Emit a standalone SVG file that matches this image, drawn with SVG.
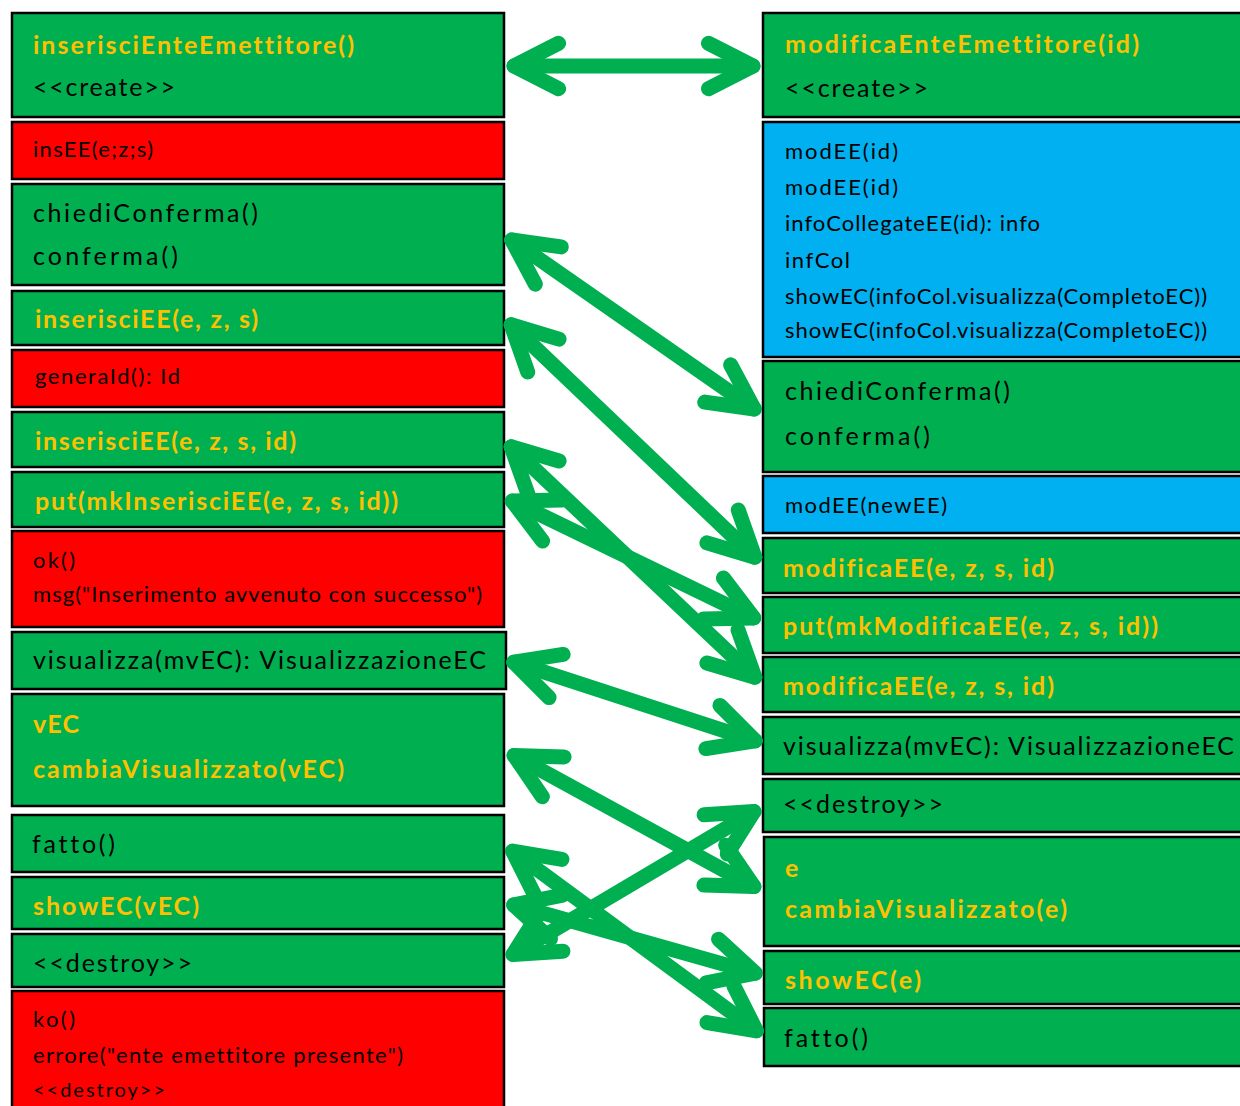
<svg xmlns="http://www.w3.org/2000/svg" width="1240" height="1106" viewBox="0 0 1240 1106">
  <style>
    .node rect { stroke: #000; stroke-width: 2.5; }
    .g { fill: #00B050; }
    .r { fill: #FF0000; }
    .b { fill: #00B0F0; }
    text { font-family: Lato, "Liberation Sans", sans-serif; font-variant-ligatures: none; font-feature-settings: "liga" 0, "clig" 0; }
    .t { font-size: 25px; fill: #000; }
    .s { font-size: 22px; fill: #000; }
    .y { font-size: 25px; font-weight: bold; fill: #FFC000; }
    .conn line { stroke: #00B050; stroke-width: 15; stroke-linecap: round; marker-start: url(#head); marker-end: url(#head); }
  </style>
  <defs>
    <!-- open chevron head, reversed at the start so both ends point outward -->
    <marker id="head" markerUnits="userSpaceOnUse" viewBox="-60 -35 70 70" markerWidth="70" markerHeight="70" refX="0" refY="0" orient="auto-start-reverse" overflow="visible">
      <path d="M-44.6,-22.7 L0,0 L-44.6,22.7" fill="none" stroke="#00B050" stroke-width="15" stroke-linecap="round" stroke-linejoin="round"/>
    </marker>
  </defs>
  <rect x="0" y="0" width="1240" height="1106" fill="#fff"/>

  <!-- insert flow (left column) -->
  <g id="ins-create" class="node"><rect class="g" x="12" y="13" width="492" height="104"/>
    <text class="y" x="33" y="54" textLength="321">inserisciEnteEmettitore()</text>
    <text class="t" x="33" y="96" textLength="142">&lt;&lt;create&gt;&gt;</text></g>
  <g id="ins-insEE" class="node"><rect class="r" x="12" y="122" width="492" height="57"/>
    <text class="s" x="33" y="157" textLength="120">insEE(e;z;s)</text></g>
  <g id="ins-conferma" class="node"><rect class="g" x="12" y="184" width="492" height="101"/>
    <text class="t" x="33" y="222" textLength="225">chiediConferma()</text>
    <text class="t" x="33" y="265" textLength="145">conferma()</text></g>
  <g id="ins-inserisciEE" class="node"><rect class="g" x="12" y="291" width="492" height="54"/>
    <text class="y" x="35" y="328" textLength="223">inserisciEE(e, z, s)</text></g>
  <g id="ins-generaId" class="node"><rect class="r" x="12" y="350" width="492" height="57"/>
    <text class="s" x="35" y="384" textLength="145">generaId(): Id</text></g>
  <g id="ins-inserisciEE-id" class="node"><rect class="g" x="12" y="412" width="492" height="55"/>
    <text class="y" x="35" y="450" textLength="261">inserisciEE(e, z, s, id)</text></g>
  <g id="ins-put" class="node"><rect class="g" x="12" y="472" width="492" height="55"/>
    <text class="y" x="35" y="510" textLength="363">put(mkInserisciEE(e, z, s, id))</text></g>
  <g id="ins-ok" class="node"><rect class="r" x="12" y="531" width="492" height="96"/>
    <text class="s" x="33" y="568" textLength="42">ok()</text>
    <text class="s" x="33" y="602" textLength="449">msg("Inserimento avvenuto con successo")</text></g>
  <g id="ins-visualizza" class="node"><rect class="g" x="12" y="632" width="494" height="57"/>
    <text class="t" x="33" y="669" textLength="453">visualizza(mvEC): VisualizzazioneEC</text></g>
  <g id="ins-cambia" class="node"><rect class="g" x="12" y="694" width="492" height="112"/>
    <text class="y" x="33" y="733" textLength="46">vEC</text>
    <text class="y" x="33" y="778" textLength="311">cambiaVisualizzato(vEC)</text></g>
  <g id="ins-fatto" class="node"><rect class="g" x="12" y="815" width="492" height="57"/>
    <text class="t" x="32" y="853" textLength="83">fatto()</text></g>
  <g id="ins-showEC" class="node"><rect class="g" x="12" y="877" width="492" height="52"/>
    <text class="y" x="33" y="915" textLength="166">showEC(vEC)</text></g>
  <g id="ins-destroy" class="node"><rect class="g" x="12" y="934" width="492" height="53"/>
    <text class="t" x="33" y="972" textLength="159">&lt;&lt;destroy&gt;&gt;</text></g>
  <g id="ins-ko" class="node"><rect class="r" x="12" y="991" width="492" height="125"/>
    <text class="s" x="33" y="1027" textLength="42">ko()</text>
    <text class="s" x="33" y="1063" textLength="370">errore("ente emettitore presente")</text>
    <text class="s" x="33" y="1097" style="font-size:20px" textLength="132">&lt;&lt;destroy&gt;&gt;</text></g>

  <!-- modify flow (right column) -->
  <g id="mod-create" class="node"><rect class="g" x="763" y="13" width="490" height="104"/>
    <text class="y" x="785" y="53" textLength="354">modificaEnteEmettitore(id)</text>
    <text class="t" x="785" y="97" textLength="143">&lt;&lt;create&gt;&gt;</text></g>
  <g id="mod-modEE" class="node"><rect class="b" x="763" y="122" width="490" height="235"/>
    <text class="s" x="785" y="159" textLength="113">modEE(id)</text>
    <text class="s" x="785" y="195" textLength="113">modEE(id)</text>
    <text class="s" x="785" y="231" textLength="255">infoCollegateEE(id): info</text>
    <text class="s" x="785" y="268" textLength="65">infCol</text>
    <text class="s" x="785" y="304" textLength="422">showEC(infoCol.visualizza(CompletoEC))</text>
    <text class="s" x="785" y="338" textLength="422">showEC(infoCol.visualizza(CompletoEC))</text></g>
  <g id="mod-conferma" class="node"><rect class="g" x="763" y="361" width="490" height="111"/>
    <text class="t" x="785" y="400" textLength="225">chiediConferma()</text>
    <text class="t" x="785" y="445" textLength="145">conferma()</text></g>
  <g id="mod-newEE" class="node"><rect class="b" x="763" y="476" width="490" height="57"/>
    <text class="s" x="785" y="513" textLength="162">modEE(newEE)</text></g>
  <g id="mod-modificaEE" class="node"><rect class="g" x="763" y="538" width="490" height="55"/>
    <text class="y" x="783" y="577" textLength="271">modificaEE(e, z, s, id)</text></g>
  <g id="mod-put" class="node"><rect class="g" x="763" y="597" width="490" height="56"/>
    <text class="y" x="783" y="635" textLength="375">put(mkModificaEE(e, z, s, id))</text></g>
  <g id="mod-modificaEE-2" class="node"><rect class="g" x="763" y="657" width="490" height="55"/>
    <text class="y" x="783" y="695" textLength="271">modificaEE(e, z, s, id)</text></g>
  <g id="mod-visualizza" class="node"><rect class="g" x="763" y="717" width="490" height="57"/>
    <text class="t" x="783" y="755" textLength="451">visualizza(mvEC): VisualizzazioneEC</text></g>
  <g id="mod-destroy" class="node"><rect class="g" x="763" y="779" width="490" height="53"/>
    <text class="t" x="783" y="813" textLength="160">&lt;&lt;destroy&gt;&gt;</text></g>
  <g id="mod-cambia" class="node"><rect class="g" x="764" y="837" width="490" height="109"/>
    <text class="y" x="785" y="877">e</text>
    <text class="y" x="785" y="918" textLength="282">cambiaVisualizzato(e)</text></g>
  <g id="mod-showEC" class="node"><rect class="g" x="764" y="951" width="490" height="53"/>
    <text class="y" x="785" y="989" textLength="136">showEC(e)</text></g>
  <g id="mod-fatto" class="node"><rect class="g" x="764" y="1008" width="490" height="58"/>
    <text class="t" x="784" y="1047" textLength="84">fatto()</text></g>

  <!-- double-headed links between matching steps -->
  <g id="connectors" class="conn">
    <line x1="514" y1="66" x2="753" y2="66"/>
    <line x1="511.7" y1="240" x2="754.3" y2="409"/>
    <line x1="511.1" y1="324.8" x2="754.9" y2="557.2"/>
    <line x1="511.1" y1="446.8" x2="754.9" y2="677.2"/>
    <line x1="512.3" y1="501.1" x2="753.7" y2="617.9"/>
    <line x1="513.7" y1="662.2" x2="755.3" y2="740.8"/>
    <line x1="514.1" y1="755.4" x2="753.9" y2="886.6"/>
    <line x1="512.6" y1="851.2" x2="756.4" y2="1030.8"/>
    <line x1="513.7" y1="904.9" x2="755.3" y2="973.1"/>
    <line x1="513" y1="954.4" x2="754" y2="811.6"/>
  </g>
</svg>
